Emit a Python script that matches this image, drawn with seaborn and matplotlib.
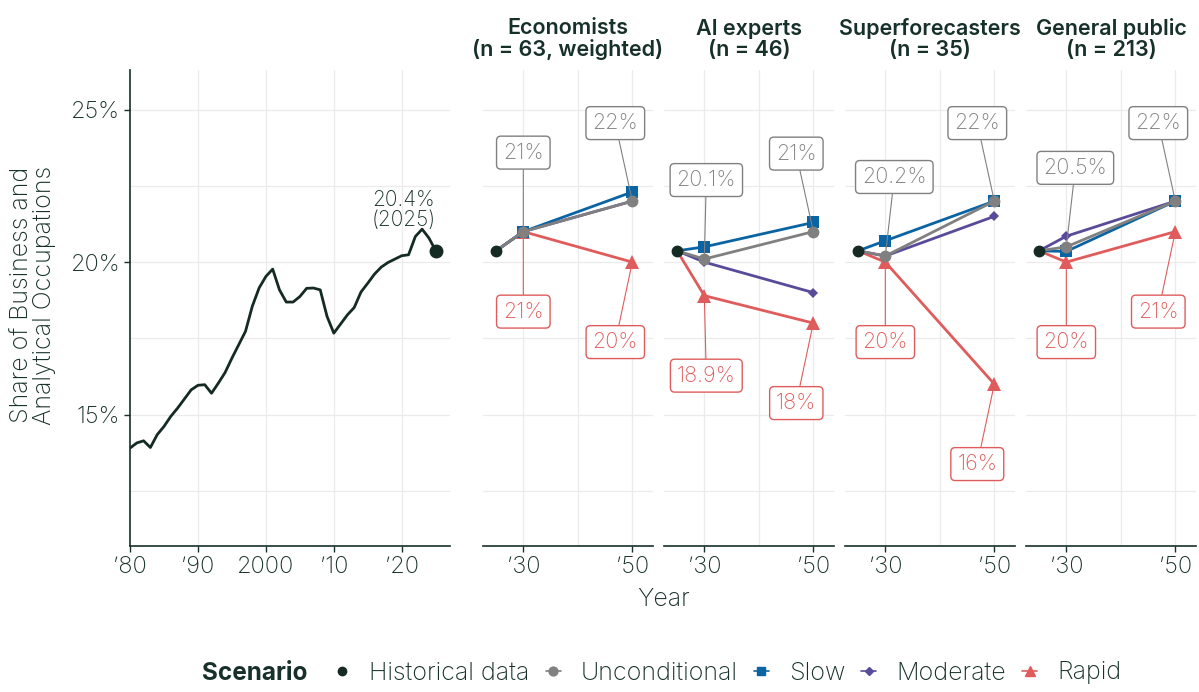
""" Share of business and analytical occupations: history and forecasts """

import numpy as np
import pandas as pd
import seaborn as sns
import matplotlib as mpl
from matplotlib import pyplot as plt
from matplotlib.lines import Line2D

# #############################################
# Data
hist_years = list(range(1980, 2026))
hist_share = [13.90, 14.07, 14.14, 13.92, 14.34, 14.61, 14.94, 15.21, 15.51, 15.81,
              15.96, 15.98, 15.70, 16.03, 16.38, 16.85, 17.29, 17.73, 18.55, 19.15,
              19.53, 19.77, 19.09, 18.69, 18.69, 18.87, 19.14, 19.15, 19.09, 18.22,
              17.67, 17.97, 18.27, 18.51, 19.02, 19.31, 19.61, 19.84, 19.99, 20.10,
              20.21, 20.24, 20.84, 21.08, 20.79, 20.37]
start_year = 2025
start_share = 20.37

groups = ['Economists\n(n = 63, weighted)', 'AI experts\n(n = 46)',
          'Superforecasters\n(n = 35)', 'General public\n(n = 213)']
fc_years = [2030, 2050]
scenarios = ['Rapid', 'Moderate', 'Slow', 'Unconditional']   # draw order
unconditional = [[21.0, 22.0], [20.1, 21.0], [20.2, 22.0], [20.5, 22.0]]
slow = [[21.0, 22.3], [20.5, 21.3], [20.7, 22.0], [20.35, 22.0]]
moderate = [[21.0, 22.0], [20.0, 19.0], [20.2, 21.5], [20.85, 22.0]]
rapid = [[21.0, 20.0], [18.9, 18.0], [20.0, 16.0], [20.0, 21.0]]

# Styles
ink = '#17302A'
colors = {'Historical data': '#142A22', 'Unconditional': '#808080',
          'Slow': '#0A64A4', 'Moderate': '#5A4A9A', 'Rapid': '#E05C5C'}
markers = {'Unconditional': 'o', 'Slow': 's', 'Moderate': 'D', 'Rapid': '^'}
msizes = {'Unconditional': 8.5, 'Slow': 8., 'Moderate': 5.5, 'Rapid': 9.5}
# label offsets (pixels) for the 2030 labels
dx30_unc = [0, 2, 9, 9]
dx30_rap = [0, 2, 0, 0]

rows = []
for gg, grp in enumerate(groups):
    for name, vals in zip(['Unconditional', 'Slow', 'Moderate', 'Rapid'],
                          [unconditional, slow, moderate, rapid]):
        rows.append(dict(group=grp, scenario=name, year=start_year, share=start_share))
        for yr, v in zip(fc_years, vals[gg]):
            rows.append(dict(group=grp, scenario=name, year=yr, share=v))
df = pd.DataFrame(rows)


def pct(v):
    return f'{v:g}%'


def box_label(ax, x, y, text, color, dx, dy):
    ax.annotate(text, xy=(x, y), xytext=(dx, dy), textcoords='offset pixels',
                ha='center', va='center', fontsize=15.5, color=color,
                bbox=dict(boxstyle='round,pad=0.3,rounding_size=0.2',
                          fc='white', ec=color, lw=1.0),
                arrowprops=dict(arrowstyle='-', color=color, lw=0.8,
                                shrinkA=0, shrinkB=0),
                zorder=6)


def fig_occupations(outfile='out.png'):
    sns.set_theme(style='white')
    plt.rcParams['font.family'] = ['Inter', 'DejaVu Sans']
    plt.rcParams['font.weight'] = 'light'
    plt.rcParams['text.color'] = ink
    plt.rcParams['axes.labelcolor'] = ink
    plt.rcParams['xtick.color'] = ink
    plt.rcParams['ytick.color'] = ink

    W, H = 1199, 692
    fig = plt.figure(figsize=(W/100, H/100), dpi=100)
    bot, top = 546, 70
    ylim = (10.69, 26.3)

    def add_ax(left, width):
        return fig.add_axes([left/W, (H-bot)/H, width/W, (bot-top)/H])

    # #########################################################
    # Historical panel
    ax_h = add_ax(130, 320)
    for yv in [12.5, 15, 17.5, 20, 22.5, 25]:
        ax_h.axhline(yv, color='#EBEBEB', lw=0.9, zorder=0)
    for xv in [1990, 2000, 2010, 2020]:
        ax_h.axvline(xv, color='#EBEBEB', lw=0.9, zorder=0)
    sns.lineplot(x=hist_years, y=hist_share, ax=ax_h, color=colors['Historical data'],
                 lw=2.0)
    ax_h.plot([hist_years[-1]], [hist_share[-1]], 'o', color=colors['Historical data'],
              ms=9, zorder=5)
    ax_h.annotate('20.4%\n(2025)', xy=(hist_years[-1], hist_share[-1]), xytext=(-32, 41),
                  textcoords='offset pixels', ha='center', va='center', fontsize=15,
                  linespacing=1.0, color=ink)
    ax_h.set_xlim(1980, 2027.1)
    ax_h.set_ylim(*ylim)
    ax_h.set_xticks([1980, 1990, 2000, 2010, 2020])
    ax_h.set_xticklabels(['\u201980', '\u201990', '2000', '\u201910', '\u201920'])
    ax_h.set_yticks([15, 20, 25])
    ax_h.set_yticklabels(['15%', '20%', '25%'])
    for side in ['top', 'right']:
        ax_h.spines[side].set_visible(False)
    for side in ['left', 'bottom']:
        ax_h.spines[side].set_color(ink)
        ax_h.spines[side].set_linewidth(1.2)
    ax_h.tick_params(axis='both', length=4, width=1.0, color=ink, labelsize=17,
                     bottom=True, left=True, pad=3)
    ax_h.set_xlabel('')
    ax_h.set_ylabel('')

    # #########################################################
    # Forecast panels
    lefts = [483, 664, 845, 1026]
    for gg, grp in enumerate(groups):
        ax = add_ax(lefts[gg], 170)
        for yv in [12.5, 15, 17.5, 20, 22.5, 25]:
            ax.axhline(yv, color='#EBEBEB', lw=0.9, zorder=0)
        for xv in [2030, 2040, 2050]:
            ax.axvline(xv, color='#EBEBEB', lw=0.9, zorder=0)

        sub = df[df.group == grp]
        for sc in scenarios:
            d = sub[sub.scenario == sc]
            sns.lineplot(data=d, x='year', y='share', ax=ax, color=colors[sc],
                         lw=2.0, marker=markers[sc], markersize=msizes[sc],
                         markevery=[1, 2], markeredgewidth=0)
        ax.plot([start_year], [start_share], 'o', color=colors['Historical data'],
                ms=7.5, zorder=5)

        # Labels
        u30, u50 = unconditional[gg]
        r30, r50 = rapid[gg]
        box_label(ax, 2030, u30, pct(u30), colors['Unconditional'], dx30_unc[gg], 79)
        box_label(ax, 2050, u50, pct(u50), colors['Unconditional'], -17, 78)
        box_label(ax, 2030, r30, pct(r30), colors['Rapid'], dx30_rap[gg], -80)
        box_label(ax, 2050, r50, pct(r50), colors['Rapid'], -17, -80)

        ax.set_xlim(2022.6, 2053.8)
        ax.set_ylim(*ylim)
        ax.set_xticks([2030, 2050])
        ax.set_xticklabels(['\u201930', '\u201950'])
        ax.set_yticks([])
        for side in ['top', 'right', 'left']:
            ax.spines[side].set_visible(False)
        ax.spines['bottom'].set_color(ink)
        ax.spines['bottom'].set_linewidth(1.2)
        ax.tick_params(axis='x', length=4, width=1.0, color=ink, labelsize=17,
                       bottom=True, pad=3)
        ax.set_xlabel('')
        ax.set_ylabel('')
        ax.set_title(grp, fontsize=15.5, fontweight='semibold', color=ink, pad=10,
                     linespacing=1.05)

    # #########################################################
    # Labels + legend
    fig.text(33/W, 1-295/H, 'Share of Business and\nAnalytical Occupations',
             rotation=90, ha='center', va='center', fontsize=18, linespacing=1.0)
    fig.text(664/W, 1-600/H, 'Year', ha='center', va='center', fontsize=18)

    handles = [Line2D([], [], color=colors['Historical data'], marker='o', ms=6, lw=0)]
    labels = ['Historical data']
    for sc in ['Unconditional', 'Slow', 'Moderate', 'Rapid']:
        handles.append(Line2D([], [], color=colors[sc], marker=markers[sc],
                              ms=msizes[sc]*0.75, lw=1.2))
        labels.append(sc)
    fig.legend(handles, labels, loc='center', bbox_to_anchor=(0.607, 1-673/H), ncol=5,
               frameon=False, fontsize=18, handlelength=0.6, handletextpad=0.8,
               columnspacing=0.65)
    fig.text(202/W, 1-673/H, 'Scenario', ha='left', va='center', fontsize=17.5,
             fontweight='bold')

    plt.savefig(outfile, dpi=100)
    print(f"Saved: {outfile}")


if __name__ == '__main__':
    fig_occupations()
